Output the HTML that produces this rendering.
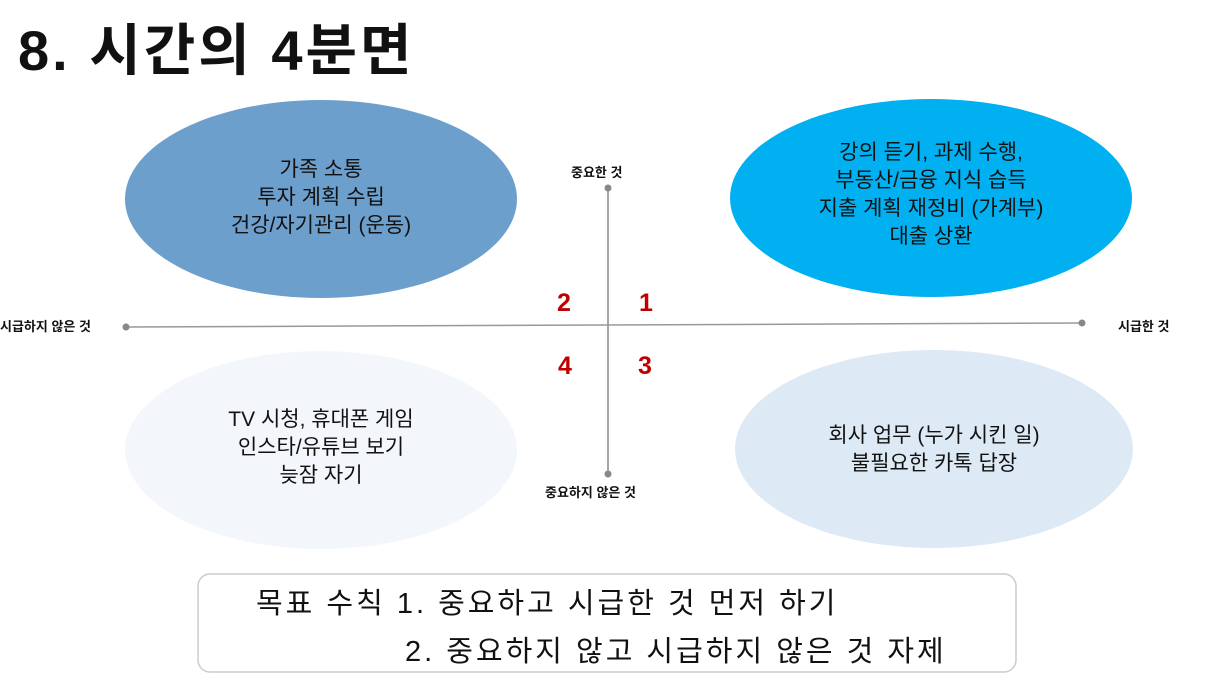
<!DOCTYPE html>
<html><head><meta charset="utf-8"><style>
body{margin:0;width:1216px;height:684px;background:#fff;position:relative;overflow:hidden;font-family:"Liberation Sans","Noto Sans CJK KR",sans-serif;}
.a{position:absolute;}
.t{position:absolute;text-align:center;font-size:21px;line-height:28px;color:#111;}
.s{position:absolute;font-size:13px;color:#111;font-weight:bold;white-space:nowrap;}
.n{position:absolute;font-size:25px;color:#c00000;font-weight:bold;}
</style></head><body>
<div class="a" style="left:18px;top:6px;font-size:56px;font-weight:bold;color:#111;letter-spacing:3px;">8. 시간의 4분면</div>
<svg class="a" style="left:0;top:0" width="1216" height="684">
<ellipse cx="321" cy="199" rx="196" ry="99" fill="#6d9fcd"/>
<ellipse cx="931" cy="198" rx="201" ry="99" fill="#00b0f0"/>
<ellipse cx="321" cy="450" rx="196" ry="99" fill="#f3f7fc"/>
<ellipse cx="934" cy="449" rx="199" ry="99" fill="#dde9f5"/>
<line x1="608" y1="188" x2="608" y2="474" stroke="#888" stroke-width="1.5"/>
<circle cx="608" cy="188" r="3.5" fill="#888"/><circle cx="608" cy="474" r="3.5" fill="#888"/>
<line x1="126" y1="327" x2="1082" y2="323" stroke="#999" stroke-width="1.5"/>
<circle cx="126" cy="327" r="3.5" fill="#888"/><circle cx="1082" cy="323" r="3.5" fill="#888"/>
<rect x="198" y="574" width="818" height="98" rx="12" fill="#fff" stroke="#ccc" stroke-width="1.5"/>
</svg>
<div class="t" style="left:125px;width:392px;top:156px;">가족 소통<br>투자 계획 수립<br>건강/자기관리 (운동)</div>
<div class="t" style="left:730px;width:402px;top:139px;">강의 듣기, 과제 수행,<br>부동산/금융 지식 습득<br>지출 계획 재정비 (가계부)<br>대출 상환</div>
<div class="t" style="left:125px;width:392px;top:406px;">TV 시청, 휴대폰 게임<br>인스타/유튜브 보기<br>늦잠 자기</div>
<div class="t" style="left:735px;width:398px;top:422px;">회사 업무 (누가 시킨 일)<br>불필요한 카톡 답장</div>
<div class="s" style="left:571px;top:162px;">중요한 것</div>
<div class="s" style="left:545px;top:482px;">중요하지 않은 것</div>
<div class="s" style="left:0px;top:316px;">시급하지 않은 것</div>
<div class="s" style="left:1118px;top:316px;">시급한 것</div>
<div class="n" style="left:557px;top:289px;">2</div>
<div class="n" style="left:639px;top:289px;">1</div>
<div class="n" style="left:558px;top:352px;">4</div>
<div class="n" style="left:638px;top:352px;">3</div>
<div class="a" style="left:256px;top:580px;font-size:29px;color:#111;white-space:nowrap;letter-spacing:3px;">목표 수칙 1. 중요하고 시급한 것 먼저 하기</div>
<div class="a" style="left:405px;top:628px;font-size:29px;color:#111;white-space:nowrap;letter-spacing:3px;">2. 중요하지 않고 시급하지 않은 것 자제</div>
</body></html>
